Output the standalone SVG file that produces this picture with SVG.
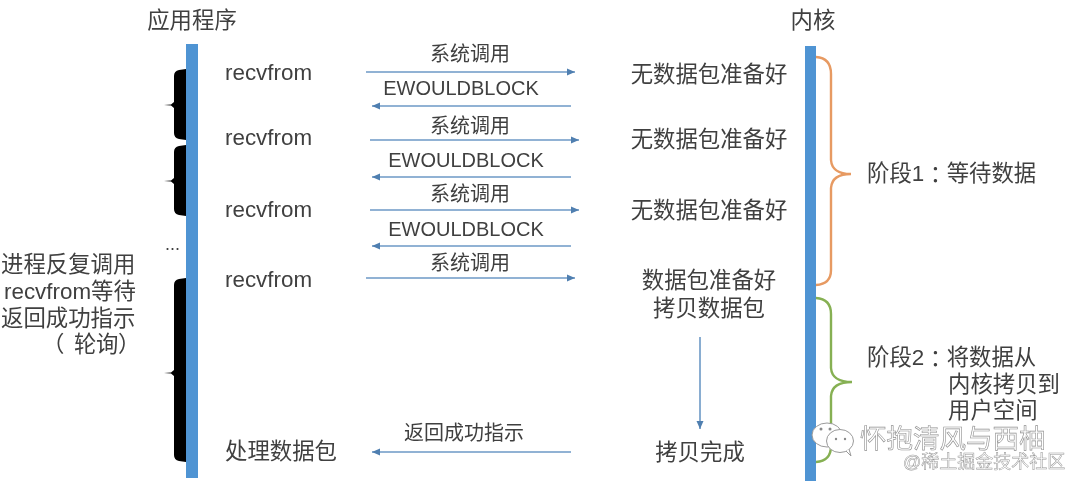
<svg xmlns="http://www.w3.org/2000/svg" width="1080" height="486" viewBox="0 0 1080 486">
<style>
text{font-family:"Liberation Sans","Noto Sans CJK SC",sans-serif;fill:#3f3f3f;font-size:22.4px}
.m{text-anchor:middle}
.s{font-size:20px}
.c{font-family:"Noto Sans CJK TC",sans-serif}
.bar{fill:#5094d3}
.ln{stroke:#6d99c6;stroke-width:1.6;fill:none}
.br{fill:#000}
.wm{font-size:26.5px;fill:#fff;stroke:#8f8f8f;stroke-width:.6}
.wm2{font-size:18px;fill:#fff;stroke:#969696;stroke-width:.5}
</style>
<defs>
<marker id="a" markerWidth="10" markerHeight="8" refX="8" refY="4" orient="auto" markerUnits="userSpaceOnUse"><path d="M0,0.5L8,4L0,7.5z" fill="#4f7fb0"/></marker>
<filter id="soft" x="0" y="0" width="100%" height="100%"><feGaussianBlur stdDeviation="0.4"/></filter>
</defs>
<rect width="1080" height="486" fill="#fff"/>
<g filter="url(#soft)">
<g id="title-app"><text class="m" x="192" y="28">应用程序</text></g>
<g id="title-kernel"><text class="m" x="813" y="28">内核</text></g>
<g id="app-bar"><rect class="bar" x="186" y="44" width="12" height="434"/></g>
<g id="kernel-bar"><rect class="bar" x="805" y="46" width="11" height="435"/></g>
<g id="app-braces">
<path class="br" d="M186,69L179,70Q174,71 174,76L174,102L171,104.5L164,105L171,105.5L174,108L174,133Q174,138 179,139L186,140z"/>
<path class="br" d="M186,145L179,146Q174,147 174,152L174,178L171,180.5L164,181L171,181.5L174,184L174,209Q174,214 179,215L186,216z"/>
<path class="br" d="M186,278L179,279Q174,280 174,285L174,370L171,372.5L164,373L171,373.5L174,376L174,455Q174,460 179,461L186,462z"/>
<text x="165" y="250" style="font-size:18px" fill="#555">...</text>
</g>
<g id="app-labels">
<text x="225" y="80">recvfrom</text>
<text x="225" y="145">recvfrom</text>
<text x="225" y="217">recvfrom</text>
<text x="225" y="287">recvfrom</text>
<text x="225" y="459">处理数据包</text>
</g>
<g id="note-left">
<text x="1" y="272">进程反复调用</text>
<text x="4" y="299">recvfrom等待</text>
<text x="1" y="326">返回成功指示</text>
<text x="42 74 96 118" y="352">（轮询）</text>
</g>
<g id="connectors">
<line class="ln" x1="366" y1="72" x2="575" y2="72" marker-end="url(#a)"/>
<line class="ln" x1="571" y1="106" x2="372" y2="106" marker-end="url(#a)"/>
<line class="ln" x1="370" y1="140" x2="579" y2="140" marker-end="url(#a)"/>
<line class="ln" x1="571" y1="177" x2="372" y2="177" marker-end="url(#a)"/>
<line class="ln" x1="370" y1="210" x2="579" y2="210" marker-end="url(#a)"/>
<line class="ln" x1="571" y1="246" x2="372" y2="246" marker-end="url(#a)"/>
<line class="ln" x1="366" y1="278" x2="575" y2="278" marker-end="url(#a)"/>
<line class="ln" x1="571" y1="452" x2="372" y2="452" marker-end="url(#a)"/>
<line class="ln" x1="700" y1="337" x2="700" y2="429" marker-end="url(#a)"/>
</g>
<g id="connector-labels">
<text class="m s" x="470" y="61">系统调用</text>
<text class="m s" x="461" y="95">EWOULDBLOCK</text>
<text class="m s" x="470" y="133">系统调用</text>
<text class="m s" x="466" y="167">EWOULDBLOCK</text>
<text class="m s" x="470" y="201">系统调用</text>
<text class="m s" x="466" y="236">EWOULDBLOCK</text>
<text class="m s" x="470" y="270">系统调用</text>
<text class="m s" x="464" y="440">返回成功指示</text>
</g>
<g id="kernel-labels">
<text class="m" x="709" y="82">无数据包准备好</text>
<text class="m" x="709" y="147">无数据包准备好</text>
<text class="m" x="709" y="218">无数据包准备好</text>
<text class="m" x="709" y="288">数据包准备好</text>
<text class="m" x="709" y="316">拷贝数据包</text>
<text class="m" x="700" y="460">拷贝完成</text>
</g>
<g id="phase1">
<path d="M816,57Q831,58 831,74L831,160Q832,174 851,174Q832,174 831,188L831,270Q831,284 816,285" fill="none" stroke="#e79a62" stroke-width="2.4"/>
<text x="867" y="181">阶段1<tspan class="c" dy="2">：</tspan><tspan dy="-2">等待数据</tspan></text>
</g>
<g id="phase2">
<path d="M816,298Q831,299 831,314L831,368Q832,382 852,382Q832,382 831,396L831,446Q831,461 816,462" fill="none" stroke="#86b052" stroke-width="2.4"/>
<text x="867" y="365">阶段2<tspan class="c" dy="2">：</tspan><tspan dy="-2">将数据从</tspan></text>
<text x="948" y="392">内核拷贝到</text>
<text x="948" y="418">用户空间</text>
</g>
<g id="watermark">
<ellipse cx="827" cy="435" rx="15" ry="12" fill="#fff" stroke="#9a9a9a" stroke-width="1"/>
<ellipse cx="840" cy="441" rx="13.5" ry="11.5" fill="#fff" stroke="#9a9a9a" stroke-width="1"/>
<path d="M846,451L851,456L849,449" fill="#fff" stroke="#9a9a9a" stroke-width="1"/>
<circle cx="821" cy="429" r="1.5" fill="#8a8a8a"/><circle cx="830" cy="429" r="1.5" fill="#8a8a8a"/>
<circle cx="836" cy="439" r="1.2" fill="#8a8a8a"/><circle cx="845" cy="439" r="1.2" fill="#8a8a8a"/>
<text class="wm" x="860" y="448">怀抱清风与西柚</text>
<text class="wm2" x="903" y="468">@稀土掘金技术社区</text>
</g>
</g>
</svg>
